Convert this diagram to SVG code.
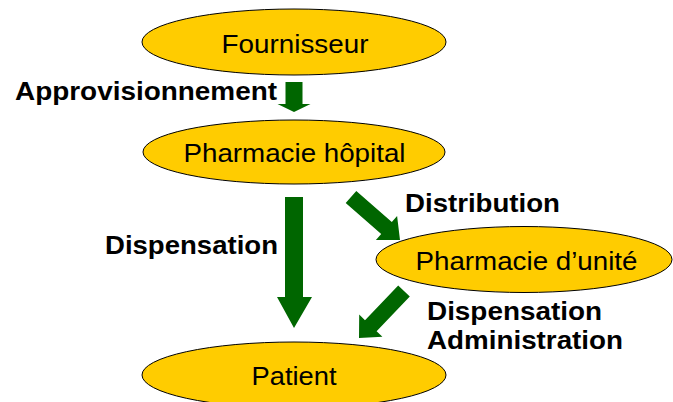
<svg xmlns="http://www.w3.org/2000/svg" width="673" height="402" viewBox="0 0 673 402">
  <style>
    .node ellipse { fill: #FFCC00; stroke: #000000; stroke-width: 1; }
    .node text { font-family: "Liberation Sans", Arial, sans-serif; font-size: 25px; fill: #000000; text-anchor: middle; }
    .flow { fill: #006600; stroke: none; }
    .label { font-family: "Liberation Sans", Arial, sans-serif; font-size: 25px; font-weight: bold; fill: #000000; }
  </style>
  <rect width="673" height="402" fill="#FFFFFF"/>

  <!-- connectors: block arrows with their labels -->
  <g id="connectors">
    <polygon class="flow" points="285.5,82 302.5,82 302.5,104 310.5,104 294,112 277.5,104 285.5,104"/>
    <text class="label" x="15" y="100" textLength="262" lengthAdjust="spacingAndGlyphs">Approvisionnement</text>

    <polygon class="flow" points="285,197 303,197 303,297 312,297 294,328 277,297 285,297"/>
    <text class="label" x="105" y="254" textLength="173" lengthAdjust="spacingAndGlyphs">Dispensation</text>

    <polygon class="flow" points="356.3,191 391.8,222.1 397.1,216.1 400,240 375.9,240.1 381.2,234.1 345.7,203"/>
    <text class="label" x="405" y="212" textLength="155" lengthAdjust="spacingAndGlyphs">Distribution</text>

    <polygon class="flow" points="398.2,285.5 365,320.2 359.2,314.6 359,338 382.4,336.8 376.6,331.2 409.8,296.5"/>
    <text class="label" x="427" y="320" textLength="175" lengthAdjust="spacingAndGlyphs">Dispensation</text>
    <text class="label" x="427" y="349" textLength="196" lengthAdjust="spacingAndGlyphs">Administration</text>
  </g>

  <g id="fournisseur" class="node">
    <ellipse cx="294" cy="42" rx="152" ry="33"/>
    <text x="295" y="53" textLength="147" lengthAdjust="spacingAndGlyphs">Fournisseur</text>
  </g>

  <g id="pharmacie-hopital" class="node">
    <ellipse cx="294" cy="152" rx="151" ry="32"/>
    <text x="294.5" y="162" textLength="222" lengthAdjust="spacingAndGlyphs">Pharmacie hôpital</text>
  </g>

  <g id="pharmacie-unite" class="node">
    <ellipse cx="524" cy="259.5" rx="148" ry="33"/>
    <text x="526.5" y="270" textLength="222" lengthAdjust="spacingAndGlyphs">Pharmacie d’unité</text>
  </g>

  <g id="patient" class="node">
    <ellipse cx="294" cy="375" rx="152" ry="33"/>
    <text x="294" y="385" textLength="85" lengthAdjust="spacingAndGlyphs">Patient</text>
  </g>
</svg>
